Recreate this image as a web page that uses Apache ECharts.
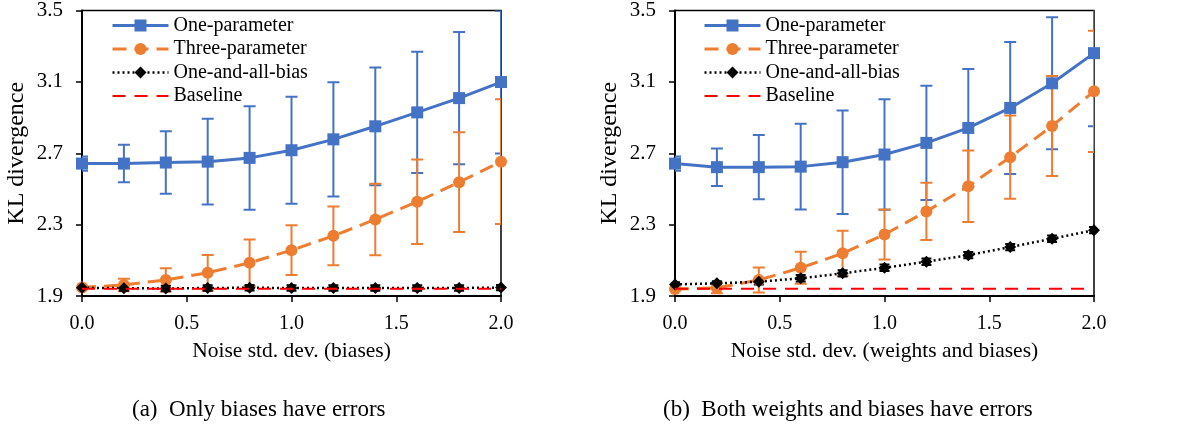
<!DOCTYPE html>
<html>
<head>
<meta charset="utf-8">
<script src="https://cdn.jsdelivr.net/npm/echarts@6/dist/echarts.min.js"></script>
<style>
  html, body { margin: 0; padding: 0; background: #fff; }
  #chart { width: 1178px; height: 430px; }
</style>
</head>
<body>
<div id="chart"></div>
<script>
// x values (noise std. dev.)
var noise = [0, 0.2, 0.4, 0.6, 0.8, 1.0, 1.2, 1.4, 1.6, 1.8, 2.0];
var yTicks = [1.9, 2.3, 2.7, 3.1, 3.5];

// (a) only biases have errors
var oneParamA = [2.642, 2.642, 2.648, 2.653, 2.674, 2.717, 2.778, 2.851, 2.929, 3.009, 3.099];
var oneParamErrA = [0.04, 0.105, 0.175, 0.24, 0.29, 0.30, 0.32, 0.33, 0.34, 0.37, 0.40];
var threeParamA = [1.948, 1.962, 1.99, 2.03, 2.086, 2.157, 2.237, 2.329, 2.428, 2.538, 2.653];
var threeParamErrA = [0.01, 0.035, 0.065, 0.10, 0.13, 0.14, 0.165, 0.2, 0.237, 0.28, 0.35];
var oneAllA = [1.946, 1.944, 1.942, 1.945, 1.946, 1.945, 1.945, 1.945, 1.945, 1.945, 1.947];
var oneAllErrA = [0.01, 0.015, 0.015, 0.015, 0.015, 0.015, 0.015, 0.015, 0.015, 0.015, 0.015];
var baselineA = [1.941, 1.941, 1.941, 1.941, 1.941, 1.941, 1.941, 1.941, 1.941, 1.941, 1.941];

// (b) both weights and biases have errors
var oneParamB = [2.642, 2.622, 2.622, 2.625, 2.65, 2.693, 2.758, 2.842, 2.954, 3.092, 3.261];
var oneParamErrB = [0.04, 0.105, 0.18, 0.24, 0.29, 0.31, 0.32, 0.33, 0.37, 0.37, 0.41];
var threeParamB = [1.939, 1.945, 1.99, 2.058, 2.139, 2.245, 2.374, 2.515, 2.678, 2.853, 3.047];
var threeParamErrB = [0.01, 0.03, 0.07, 0.09, 0.126, 0.14, 0.16, 0.2, 0.233, 0.28, 0.34];
var oneAllB = [1.965, 1.971, 1.98, 1.999, 2.027, 2.058, 2.092, 2.129, 2.174, 2.221, 2.269];
var oneAllErrB = [0.012, 0.012, 0.015, 0.018, 0.018, 0.018, 0.018, 0.018, 0.018, 0.018, 0.018];
var baselineB = [1.941, 1.941, 1.941, 1.941, 1.941, 1.941, 1.941, 1.941, 1.941, 1.941, 1.941];

var names = ['One-parameter', 'Three-parameter', 'One-and-all-bias', 'Baseline'];
var captions = ['(a)  Only biases have errors', '(b)  Both weights and biases have errors'];
var xTitles = ['Noise std. dev. (biases)', 'Noise std. dev. (weights and biases)'];

var FONT = '"Liberation Serif", "Times New Roman", serif';
var BLUE = '#4472C4', ORANGE = '#ED7D31', BLACK = '#000000', RED = '#FF0000';

function pts(vals) {
  return vals.map(function (v, i) { return [noise[i], v]; });
}
function errPts(vals, errs) {
  return vals.map(function (v, i) { return [noise[i], v - errs[i], v + errs[i]]; });
}
function errSeries(idx, vals, errs, color, cap, width) {
  return {
    type: 'custom',
    xAxisIndex: idx, yAxisIndex: idx,
    clip: true,
    silent: true,
    z: 3,
    data: errPts(vals, errs),
    renderItem: function (params, api) {
      var x = api.value(0);
      var top = api.coord([x, api.value(2)]);
      var bot = api.coord([x, api.value(1)]);
      var st = { stroke: color, lineWidth: width };
      return {
        type: 'group',
        children: [
          { type: 'line', shape: { x1: top[0], y1: top[1], x2: bot[0], y2: bot[1] }, style: st },
          { type: 'line', shape: { x1: top[0] - cap, y1: top[1], x2: top[0] + cap, y2: top[1] }, style: st },
          { type: 'line', shape: { x1: bot[0] - cap, y1: bot[1], x2: bot[0] + cap, y2: bot[1] }, style: st }
        ]
      };
    }
  };
}

function panelSeries(idx, one, oneErr, three, threeErr, all, allErr, base) {
  return [
    {
      name: names[0], type: 'line', xAxisIndex: idx, yAxisIndex: idx,
      data: pts(one), symbol: 'rect', symbolSize: 12, z: 4,
      itemStyle: { color: BLUE },
      lineStyle: { color: BLUE, width: 3 }
    },
    errSeries(idx, one, oneErr, BLUE, 6, 2),
    {
      name: names[1], type: 'line', xAxisIndex: idx, yAxisIndex: idx,
      data: pts(three), symbol: 'circle', symbolSize: 12, z: 4,
      itemStyle: { color: ORANGE },
      lineStyle: { color: ORANGE, width: 3, type: [14, 8] }
    },
    errSeries(idx, three, threeErr, ORANGE, 6, 2),
    {
      name: names[2], type: 'line', xAxisIndex: idx, yAxisIndex: idx,
      data: pts(all), symbol: 'diamond', symbolSize: 12, z: 4,
      itemStyle: { color: BLACK },
      lineStyle: { color: BLACK, width: 2.5, type: [2, 3] }
    },
    errSeries(idx, all, allErr, BLACK, 5, 2),
    {
      name: names[3], type: 'line', xAxisIndex: idx, yAxisIndex: idx,
      data: pts(base), symbol: 'none', z: 5,
      lineStyle: { color: RED, width: 2, type: [13, 9] }
    }
  ];
}

function xAxis(idx) {
  return {
    type: 'value', gridIndex: idx, min: 0, max: 2, interval: 0.5,
    name: xTitles[idx], nameLocation: 'middle', nameGap: 44,
    nameTextStyle: { fontFamily: FONT, fontSize: 21.5, color: '#000' },
    axisLine: { lineStyle: { color: '#000', width: 2 } },
    axisTick: { show: true, inside: false, length: 6, lineStyle: { color: '#000', width: 1.5 } },
    axisLabel: { fontFamily: FONT, fontSize: 20, color: '#000', margin: 18,
      formatter: function (v) { return v.toFixed(1); } },
    splitLine: { show: false }
  };
}
function yAxis(idx) {
  return {
    type: 'value', gridIndex: idx, min: yTicks[0], max: yTicks[yTicks.length - 1],
    interval: yTicks[1] - yTicks[0],
    name: 'KL divergence', nameLocation: 'middle', nameGap: 53,
    nameTextStyle: { fontFamily: FONT, fontSize: 24, color: '#000' },
    axisLine: { show: true, lineStyle: { color: '#000', width: 2 } },
    axisTick: { show: true, inside: false, length: 6, lineStyle: { color: '#000', width: 1.5 } },
    axisLabel: { fontFamily: FONT, fontSize: 21, color: '#000', margin: 19,
      formatter: function (v) { return v.toFixed(1); } },
    splitLine: { show: false }
  };
}
function legend(left) {
  return {
    data: [
      { name: names[0] },
      { name: names[1] },
      { name: names[2] },
      { name: names[3], itemStyle: { opacity: 0 } }
    ],
    orient: 'vertical', left: left, top: 14,
    itemWidth: 56, itemHeight: 15, itemGap: 0.5, padding: 0,
    selectedMode: false,
    lineStyle: { width: 'inherit' },
    textStyle: { fontFamily: FONT, fontSize: 20, color: '#000', lineHeight: 23 }
  };
}

var chart = echarts.init(document.getElementById('chart'));
var option = {
  backgroundColor: '#fff',
  animation: false,
  grid: [
    { left: 82, top: 10, width: 419, height: 286, show: true, borderColor: '#000', borderWidth: 1.5 },
    { left: 675, top: 10, width: 419, height: 286, show: true, borderColor: '#000', borderWidth: 1.5 }
  ],
  legend: [legend(111), legend(703)],
  xAxis: [xAxis(0), xAxis(1)],
  yAxis: [yAxis(0), yAxis(1)],
  graphic: [
    { type: 'text', left: 132, top: 398,
      style: { text: captions[0], font: '23px ' + FONT, fill: '#000' } },
    { type: 'text', left: 663, top: 398,
      style: { text: captions[1], font: '23px ' + FONT, fill: '#000' } }
  ],
  series: [].concat(
    panelSeries(0, oneParamA, oneParamErrA, threeParamA, threeParamErrA, oneAllA, oneAllErrA, baselineA),
    panelSeries(1, oneParamB, oneParamErrB, threeParamB, threeParamErrB, oneAllB, oneAllErrB, baselineB)
  )
};
chart.setOption(option);
</script>
</body>
</html>
